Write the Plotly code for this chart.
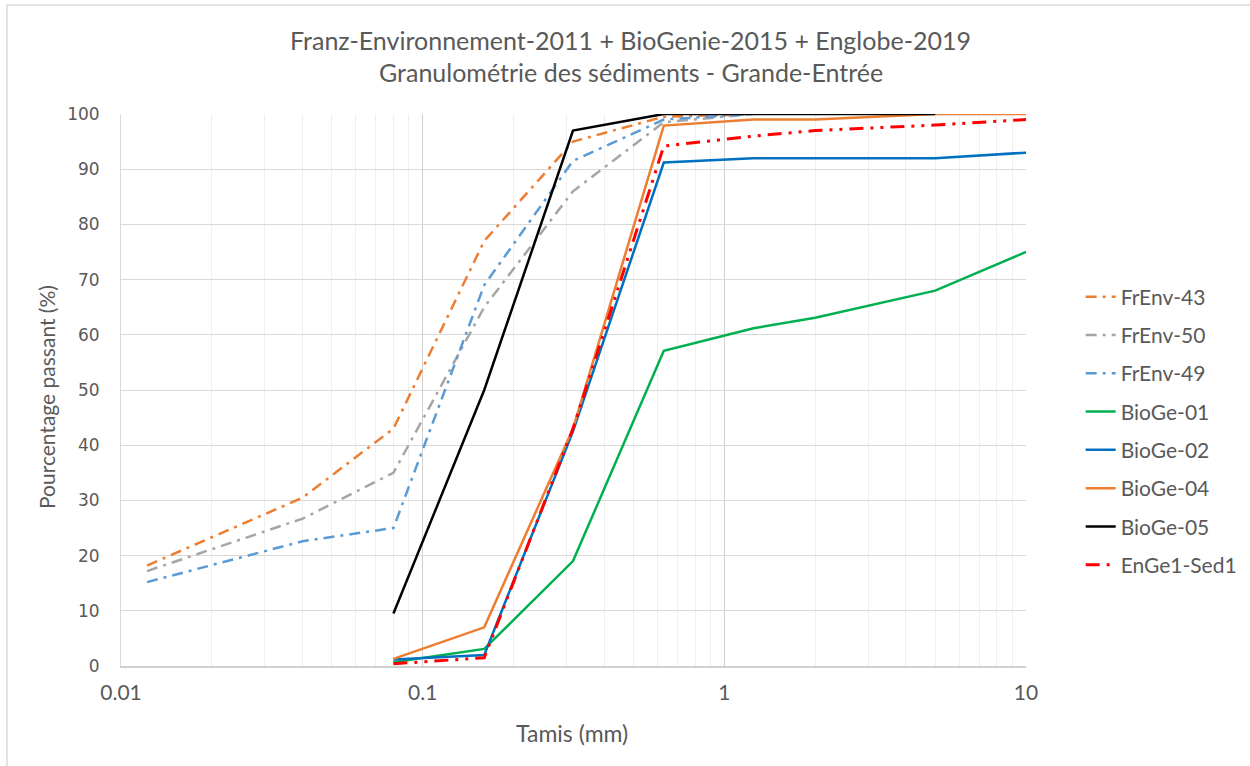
import plotly.graph_objects as go

# ---------------- data ----------------
x_frenv = [0.0122, 0.04, 0.08, 0.16, 0.315, 0.63, 1.25]
frenv_43 = [18.2, 30.5, 43, 77, 95, 99.5, 100]
frenv_50 = [17.2, 26.7, 35, 65, 86, 98.5, 100]
frenv_49 = [15.2, 22.6, 25, 69, 91.5, 99, 100]

x_bioge = [0.08, 0.16, 0.315, 0.63, 1.25, 2, 5, 10]
bioge_01 = [0.7, 3.1, 19, 57.1, 61.2, 63.1, 68, 75]
bioge_02 = [1.2, 2.0, 42.5, 91.2, 92, 92, 92, 93]
bioge_04 = [1.3, 7.0, 43, 97.9, 99, 99, 100, 100]
x_bioge05 = [0.08, 0.16, 0.315, 0.63, 1.25, 2, 5]
bioge_05 = [9.5, 50, 97, 100, 100, 100, 100]

x_enge = [0.08, 0.16, 0.315, 0.63, 1.25, 2, 5, 10]
enge1_sed1 = [0.4, 1.5, 43, 94.2, 96, 97, 98, 99]

title_lines = ["Franz-Environnement-2011 + BioGenie-2015 + Englobe-2019",
               "Granulométrie des sédiments - Grande-Entrée"]
x_title = "Tamis (mm)"
y_title = "Pourcentage passant (%)"
x_tickvals = [0.01, 0.1, 1, 10]
x_ticktext = ["0.01", "0.1", "1", "10"]

FONT = "Lato, Open Sans, sans-serif"
TXT = "#595959"

fig = go.Figure()

series = [
    ("FrEnv-43", x_frenv, frenv_43, "#ED7D31", "11px,6px,3px,6px"),
    ("FrEnv-50", x_frenv, frenv_50, "#A5A5A5", "11px,6px,3px,6px"),
    ("FrEnv-49", x_frenv, frenv_49, "#5B9BD5", "11px,6px,3px,6px"),
    ("BioGe-01", x_bioge, bioge_01, "#00B050", "solid"),
    ("BioGe-02", x_bioge, bioge_02, "#0070C0", "solid"),
    ("BioGe-04", x_bioge, bioge_04, "#ED7D31", "solid"),
    ("BioGe-05", x_bioge05, bioge_05, "#000000", "solid"),
    ("EnGe1-Sed1", x_enge, enge1_sed1, "#FF0000", "14px,7px,3px,7px,3px,7px"),
]

for name, xs, ys, color, dash in series:
    w = 3 if name == "EnGe1-Sed1" else 2.5
    fig.add_trace(go.Scatter(
        x=xs, y=ys, name=name, mode="lines",
        line=dict(color=color, width=w, dash=dash),
        legendgroup=name,
    ))

# plot area in window pixels: x 121..1026, y 114..666
annotations = [
    dict(text=title_lines[0], x=0.5635, y=(666 - 40) / 552, xref="paper", yref="paper",
         xanchor="center", yanchor="middle", showarrow=False,
         font=dict(family=FONT, size=25, color=TXT)),
    dict(text=title_lines[1], x=0.5635, y=(666 - 72) / 552, xref="paper", yref="paper",
         xanchor="center", yanchor="middle", showarrow=False,
         font=dict(family=FONT, size=25, color=TXT)),
    dict(text=x_title, x=(572 - 121) / 905, y=(666 - 733) / 552, xref="paper", yref="paper",
         xanchor="center", yanchor="middle", showarrow=False,
         font=dict(family=FONT, size=23, color=TXT)),
    dict(text=y_title, x=(47 - 121) / 905, y=(666 - 397) / 552, xref="paper", yref="paper",
         xanchor="center", yanchor="middle", showarrow=False, textangle=-90,
         font=dict(family=FONT, size=21, color=TXT)),
]

fig.update_layout(
    width=1250, height=766,
    paper_bgcolor="white", plot_bgcolor="white",
    margin=dict(l=121, r=224, t=114, b=100, autoexpand=False),
    font=dict(family=FONT, color=TXT, size=16),
    showlegend=True,
    legend=dict(
        x=1.0604, xanchor="left", y=0.4257, yanchor="middle",
        font=dict(family=FONT, size=21, color=TXT),
        tracegroupgap=8, bgcolor="rgba(0,0,0,0)",
    ),
    annotations=annotations,
    shapes=[
        dict(type="line", xref="paper", yref="paper",
             x0=(7 - 121) / 905, x1=1.5, y0=(666 - 5) / 552, y1=(666 - 5) / 552,
             line=dict(color="#D9D9D9", width=1.5)),
        dict(type="line", xref="paper", yref="paper",
             x0=(7 - 121) / 905, x1=(7 - 121) / 905, y0=-0.3, y1=(666 - 5) / 552,
             line=dict(color="#D9D9D9", width=1.5)),
    ],
)

fig.update_xaxes(
    type="log", range=[-2, 1],
    tickvals=x_tickvals, ticktext=x_ticktext,
    tickfont=dict(family=FONT, size=21, color=TXT),
    ticklabelstandoff=7,
    showgrid=True, gridcolor="#CFCFCF", gridwidth=1,
    minor=dict(showgrid=True, gridcolor="#EFEFEF", gridwidth=1,
               tickvals=[j * 10 ** k for k in (-2, -1, 0) for j in range(2, 10)]),
    showline=True, linecolor="#D0D0D0", linewidth=1.5,
    zeroline=False, ticks="",
)
fig.update_yaxes(
    range=[0, 100], dtick=10,
    tickfont=dict(family="DejaVu Sans, sans-serif", size=17, color=TXT),
    ticklabelstandoff=17,
    showgrid=True, gridcolor="#D9D9D9", gridwidth=1,
    showline=True, linecolor="#D9D9D9", linewidth=1,
    zeroline=False, ticks="",
)

fig.write_html("out.html", config={"displayModeBar": False},
               post_script="document.body.style.margin='0px';")
